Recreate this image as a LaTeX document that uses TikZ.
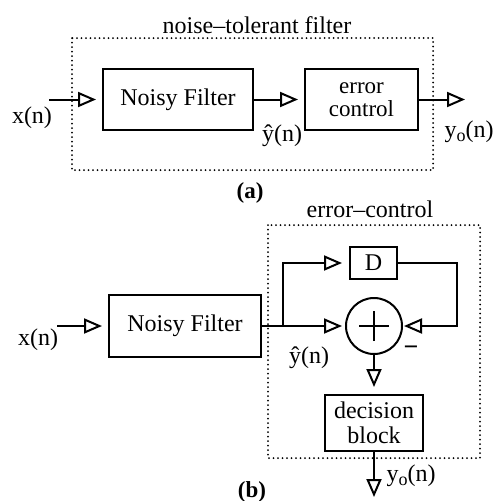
\documentclass[tikz,border=0pt]{standalone}
\usepackage{fontspec}
\setmainfont{Liberation Serif}
\usetikzlibrary{arrows.meta}
\newcommand\myyon{y\raisebox{-4pt}{\fontsize{18}{18}\selectfont o}(n)}
\begin{document}
\begin{tikzpicture}[x=1pt,y=-1pt,
  txt/.style={font=\fontsize{24}{25}\selectfont},
  box/.style={draw, line width=2pt, inner sep=0pt, txt},
  wire/.style={line width=2pt},
  arr/.style={wire, -{Triangle[open, length=18pt, width=15pt, line width=2pt]}},
  dotbox/.style={line width=2pt, dash pattern=on 0pt off 4.5pt, line cap=round},
  lbl/.style={anchor=base, inner sep=0pt, txt},
]
\useasboundingbox (0,0) rectangle (496,501);

% ---------- (a) ----------
\draw[dotbox] (72,38) rectangle (433,170);
\node[lbl] (ta) at (257,33) {noise–tolerant filter};
\node[box, minimum width=150pt, minimum height=61pt] (nfa) at (178,99.5) {Noisy Filter};
\node[box, minimum width=113pt, minimum height=61pt, align=center,
      font=\fontsize{23}{22.5}\selectfont] (eca) at (361.5,99.5) {error\\control};
\coordinate (xina) at (49,99.5);
\coordinate (youta) at (465,99.5);
\draw[arr, shorten >=6pt] (xina) -- (nfa);
\draw[arr, shorten >=6pt] (nfa) -- (eca);
\draw[arr] (eca) -- (youta);
\node[lbl] (xa) at (32,123) {x(n)};
\node[lbl] (yha) at (282,141) {ŷ(n)};
\node[lbl] (yoa) at (469,137) {\myyon};
\node[lbl, font=\fontsize{23}{25}\selectfont\bfseries] (capa) at (250,198) {(a)};

% ---------- (b) ----------
\draw[dotbox] (268,225) rectangle (480,458);
\node[lbl] (tb) at (370,217) {error–control};
\node[box, minimum width=152pt, minimum height=62pt] (nfb) at (185,326) {Noisy Filter};
\node[draw, circle, line width=2pt, minimum size=56pt, inner sep=0pt] (sum) at (374,326) {};
\draw[wire] ([xshift=-15pt]sum.center) -- ([xshift=15pt]sum.center);
\draw[wire] ([yshift=-15pt]sum.center) -- ([yshift=15pt]sum.center);
\node[box, minimum width=47pt, minimum height=32pt] (d) at (373.5,263) {D};
\node[box, minimum width=98pt, minimum height=56pt, align=center] (dec) at (374,423) {decision\\block};
\coordinate (xinb) at (57,326);
\coordinate (br) at (283,326);
\coordinate (fb) at (457,263);
\coordinate (youtb) at (374,497);
\draw[arr, shorten >=6pt] (xinb) -- (nfb);
\draw[wire] (nfb) -- (br);
\draw[arr, shorten >=3pt] (br) -- (sum);
\draw[arr, shorten >=7pt] (br) |- (d);
\draw[arr, shorten >=1pt] (d) -- (fb) |- (sum);
\draw[arr, shorten >=7pt] (sum.south) -- (sum.south |- dec.north);
\draw[arr] (dec.south) -- (youtb);
\node[lbl, font=\fontsize{26}{25}\selectfont\bfseries] (minus) at (411,355) {−};
\node[lbl] (xb) at (38,345) {x(n)};
\node[lbl] (yhb) at (309,363) {ŷ(n)};
\node[lbl] (yob) at (411,481) {\myyon};
\node[lbl, font=\fontsize{23}{25}\selectfont\bfseries] (capb) at (252,497) {(b)};
\end{tikzpicture}
\end{document}
